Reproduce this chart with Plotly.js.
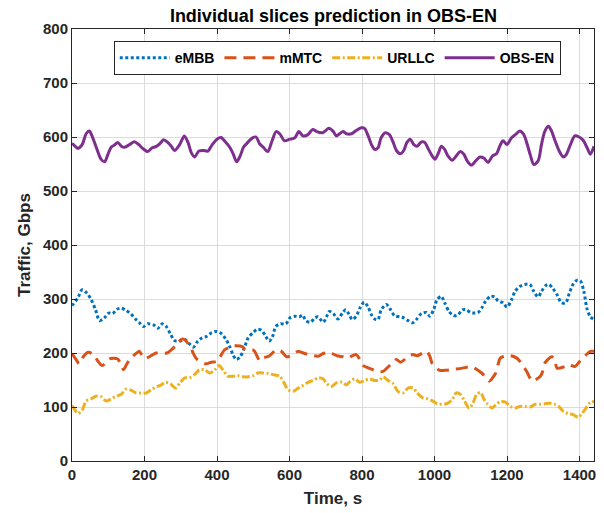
<!DOCTYPE html>
<html>
<head>
<meta charset="utf-8">
<script src="https://cdn.plot.ly/plotly-3.0.1.min.js"></script>
<style>html,body{margin:0;padding:0;background:#fff;}#chart{width:604px;height:513px;}</style>
</head>
<body>
<div id="chart"></div>
<script>
// ---- Data ----
const embbT = [0,4,16,28,41,52,65,76,89,101,112,124,136,149,163,175,186,197,209,225,237,249,260,271,283,297,311,324,335,347,359,372,384,398,412,424,435,444,453,464,474,486,500,511,523,535,544,553,562,575,590,601,615,627,636,645,658,670,679,693,702,710,721,734,746,755,764,773,784,794,806,817,826,835,844,853,867,878,890,904,915,927,939,950,964,978,987,998,1007,1019,1028,1040,1053,1065,1077,1088,1099,1108,1120,1130,1141,1154,1166,1176,1189,1200,1212,1222,1235,1249,1263,1274,1286,1295,1307,1316,1327,1338,1350,1362,1372,1383,1394,1403,1412,1421,1430,1440];
const embbV = [288,291,302,317,311,300,280,260,265,274,273,281,283,279,272,263,256,249,254,252,246,254,249,236,223,222,225,217,211,222,228,231,237,240,236,226,212,197,188,193,207,228,238,244,242,230,222,230,249,254,254,265,268,267,270,260,257,265,267,257,267,277,273,263,274,280,272,262,268,283,294,285,271,263,262,280,290,281,269,267,265,260,256,262,273,275,268,281,299,305,293,277,269,271,280,280,275,274,275,283,296,305,304,296,293,285,298,314,323,327,327,314,304,314,325,327,319,308,293,293,311,328,335,333,314,281,267,262];

const mmtcT = [0,2,11,20,31,43,55,65,83,98,103,126,142,149,160,182,186,200,232,241,262,288,301,310,329,334,345,369,384,400,421,435,442,470,477,501,518,527,543,564,578,592,624,638,654,679,693,710,731,748,759,784,794,803,830,844,858,878,895,906,930,941,952,978,987,994,1014,1028,1044,1077,1093,1105,1130,1143,1151,1169,1176,1182,1208,1226,1235,1254,1263,1270,1292,1300,1304,1323,1332,1338,1360,1373,1387,1406,1419,1430,1440];
const mmtcV = [199,197,188,180,193,201,199,191,177,185,189,189,169,177,189,202,203,190,200,200,200,215,225,225,208,200,188,180,183,185,206,211,213,212,207,205,186,191,194,206,203,193,203,200,197,194,199,201,195,193,191,197,188,177,169,166,166,178,188,183,195,197,195,203,194,180,168,168,169,172,174,174,163,154,148,163,180,191,195,191,185,166,154,148,157,169,181,193,188,172,175,178,175,189,197,203,203];

const urllcT = [0,2,16,28,39,52,66,80,94,108,122,135,149,163,177,191,205,218,232,246,258,271,286,297,311,324,338,352,366,380,394,406,417,430,444,458,472,486,500,513,527,541,555,573,584,596,610,624,638,652,665,679,693,702,715,730,746,757,768,780,794,807,821,835,849,858,872,886,899,913,927,941,952,968,982,996,1007,1019,1033,1047,1060,1072,1083,1095,1106,1116,1127,1136,1147,1159,1170,1182,1196,1209,1223,1236,1250,1264,1278,1292,1305,1318,1332,1343,1355,1368,1382,1396,1407,1416,1426,1432,1440];
const urllcV = [102,101,88,94,111,115,120,119,111,115,120,123,133,131,126,126,126,132,137,141,146,143,135,144,154,154,160,169,169,163,169,177,168,157,157,158,156,156,158,163,163,162,160,157,146,132,129,135,140,146,149,154,152,144,138,145,146,141,148,152,146,149,152,149,150,156,149,143,129,126,135,135,126,117,115,111,106,105,106,112,126,123,111,98,107,123,127,115,105,98,105,110,109,101,98,101,101,100,105,105,106,107,105,101,92,88,86,81,88,96,106,109,110];

const obsT = [0,4,16,28,39,48,57,68,80,90,99,108,117,126,136,145,159,172,184,195,209,221,234,243,253,264,274,283,297,310,320,329,338,350,362,375,387,400,411,423,436,445,454,464,473,485,497,508,517,528,540,552,563,574,586,601,614,626,637,650,664,675,692,708,720,729,738,748,757,771,784,798,807,817,826,835,844,853,865,876,886,895,906,915,924,933,943,952,964,973,982,991,1001,1010,1019,1028,1037,1049,1060,1071,1081,1090,1102,1114,1125,1136,1148,1160,1171,1180,1189,1200,1212,1224,1235,1246,1256,1265,1274,1286,1295,1304,1314,1323,1332,1344,1355,1364,1375,1387,1399,1410,1421,1430,1440];
const obsV = [588,586,579,586,606,611,599,579,559,554,568,581,585,590,583,581,586,591,586,579,573,580,583,588,595,590,583,575,586,602,590,571,563,574,575,574,586,596,599,591,580,568,554,565,581,590,598,600,588,581,573,593,610,605,593,596,598,610,602,604,614,610,608,616,611,602,606,610,606,606,612,617,616,602,586,577,580,599,608,604,590,575,569,575,590,596,586,583,591,590,579,568,559,569,583,577,565,557,565,573,568,556,548,556,563,561,553,565,569,583,593,586,598,605,611,605,586,565,549,556,586,610,620,611,594,574,563,568,586,602,600,594,580,568,583];

const seriesNames = ['eMBB','mMTC','URLLC','OBS-EN'];
const seriesColors = ['#0072BD','#D95319','#EDB120','#7E2F8E'];
const xTicks = [0,200,400,600,800,1000,1200,1400];
const yTicks = [0,100,200,300,400,500,600,700,800];

const font = 'Arial, "Liberation Sans", Helvetica, sans-serif';
const dashes = ['3px,2.5px','12px,7px','8px,2.5px,2px,2.5px','solid'];
const xs = [embbT, mmtcT, urllcT, obsT];
const ys = [embbV, mmtcV, urllcV, obsV];

const traces = seriesNames.map((n,i) => ({
  x: xs[i], y: ys[i], name: n, type: 'scatter', mode: 'lines',
  line: {color: seriesColors[i], width: 3, dash: dashes[i], shape: 'spline', smoothing: 0.8}
}));

const axisCommon = {
  showline: true, mirror: 'ticks', linecolor: '#262626', linewidth: 1,
  ticks: 'inside', ticklen: 5, tickcolor: '#262626',
  showgrid: true, gridcolor: '#DCDCDC', gridwidth: 1, zeroline: false,
  tickfont: {family: font, size: 15, color: '#262626', weight: 'bold'}
};

const layout = {
  width: 604, height: 513,
  margin: {l: 72, r: 10, t: 29, b: 52},
  paper_bgcolor: '#fff', plot_bgcolor: '#fff',
  title: {text: 'Individual slices prediction in OBS-EN', x: 0.552, xanchor: 'center', y: 0.969, yanchor: 'middle',
          font: {family: font, size: 18, color: '#000', weight: 'bold'}},
  xaxis: Object.assign({}, axisCommon, {range: [0, 1440], tickvals: xTicks, ticktext: xTicks.map(String),
          title: {text: 'Time, s', standoff: 10, font: {family: font, size: 17, color: '#262626', weight: 'bold'}}}),
  yaxis: Object.assign({}, axisCommon, {range: [0, 800], tickvals: yTicks, ticktext: yTicks.map(String),
          title: {text: 'Traffic, Gbps', standoff: 8, font: {family: font, size: 17, color: '#262626', weight: 'bold'}}}),
  showlegend: true,
  legend: {orientation: 'h', x: 0.08, xanchor: 'left', y: 0.972, yanchor: 'top',
           bgcolor: '#fff', bordercolor: '#262626', borderwidth: 1,
           font: {family: font, size: 14, color: '#000', weight: 'bold'},
           itemwidth: 50, tracegroupgap: 0}
};

Plotly.newPlot('chart', traces, layout, {displayModeBar: false, staticPlot: true});
</script>
</body>
</html>
